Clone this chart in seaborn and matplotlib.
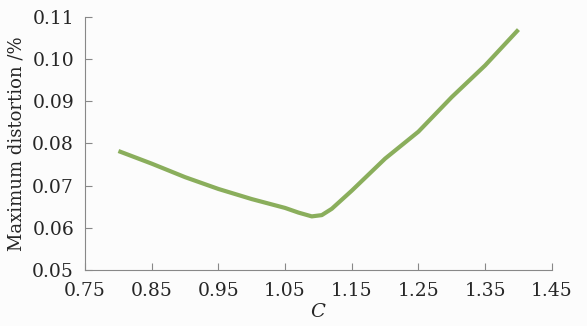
import matplotlib
matplotlib.use("Agg")
import matplotlib.pyplot as plt
import pandas as pd
import seaborn as sns

# values
c_values = [0.80, 0.85, 0.90, 0.95, 1.00, 1.05, 1.07, 1.09, 1.105, 1.12,
            1.15, 1.20, 1.25, 1.30, 1.35, 1.40]
max_distortion = [0.0782, 0.0752, 0.0720, 0.0692, 0.0668, 0.0647, 0.0636,
                  0.0627, 0.0630, 0.0645, 0.0688, 0.0764, 0.0828, 0.0910,
                  0.0985, 0.1070]
x_ticks = [0.75, 0.85, 0.95, 1.05, 1.15, 1.25, 1.35, 1.45]
y_ticks = [0.05, 0.06, 0.07, 0.08, 0.09, 0.10, 0.11]

df = pd.DataFrame({"C": c_values, "dist": max_distortion})

sns.set_style("ticks")
plt.rcParams["font.family"] = ["DejaVu Serif"]
plt.rcParams["mathtext.fontset"] = "dejavuserif"

fig = plt.figure(figsize=(5.87, 3.26), dpi=100, facecolor="#fcfcfc")
ax = fig.add_axes([0.145, 0.172, 0.795, 0.776])
ax.set_facecolor("#fcfcfc")

sns.lineplot(data=df, x="C", y="dist", ax=ax, color="#8aae5c",
             linewidth=3, solid_capstyle="butt")

ax.set_xlim(0.75, 1.45)
ax.set_ylim(0.05, 0.11)
ax.set_xticks(x_ticks)
ax.set_yticks(y_ticks)
ax.set_xticklabels([f"{v:.2f}" for v in x_ticks])
ax.set_yticklabels([f"{v:.2f}" for v in y_ticks])
ax.tick_params(direction="in", length=5, color="#888888", labelsize=13.5)
ax.tick_params(axis="x", pad=9)
ax.tick_params(axis="y", pad=8)
for side in ["left", "bottom"]:
    ax.spines[side].set_color("#888888")
sns.despine(ax=ax)

ax.set_xlabel("$C$", fontsize=14, labelpad=2)
ax.set_ylabel("Maximum distortion /%", fontsize=13, labelpad=5)

fig.savefig("out.png", dpi=100, facecolor=fig.get_facecolor())
